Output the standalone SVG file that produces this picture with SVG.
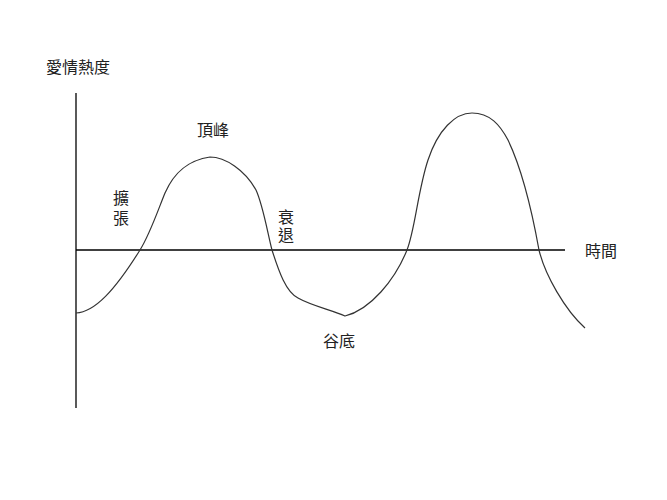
<svg xmlns="http://www.w3.org/2000/svg" width="667" height="500" viewBox="0 0 667 500">
<style>
.ax{stroke:#000;stroke-width:1.3;fill:none}
.cv{stroke:#333;stroke-width:1.2;fill:none}
.t{font-family:"Noto Sans CJK TC","Noto Sans CJK SC",sans-serif;font-size:16px;fill:#222}
.v{writing-mode:vertical-rl}
</style>
<rect width="667" height="500" fill="#fff"/>
<g id="connectors">
<line class="ax" x1="76" y1="93" x2="76" y2="408"/>
<line class="ax" x1="76" y1="250" x2="565" y2="250"/>
<path class="cv" d="M76,313 C95,312 115,290 140,250 C150,234 158,210 165,193 C175,170 190,160 210,157 C225,157 245,170 256,190 C263,205 268,235 272,250 C279,272 286,292 298,298 C312,306 332,310 345,316 C370,310 395,280 407,250 C415,230 418,190 428,160 C438,130 455,113 472,113 C490,113 500,125 508,140 C520,165 530,200 539,250 C545,275 565,310 585,328"/>
</g>
<g id="label-y"><text class="t" x="46" y="73">愛情熱度</text></g>
<g id="label-x"><text class="t" x="585" y="257">時間</text></g>
<g id="label-peak"><text class="t" x="197" y="136">頂峰</text></g>
<g id="label-expand"><text class="t v" x="121" y="190" letter-spacing="4">擴張</text></g>
<g id="label-decline"><text class="t v" x="286" y="209" letter-spacing="2">衰退</text></g>
<g id="label-valley"><text class="t" x="323" y="347">谷底</text></g>
</svg>
